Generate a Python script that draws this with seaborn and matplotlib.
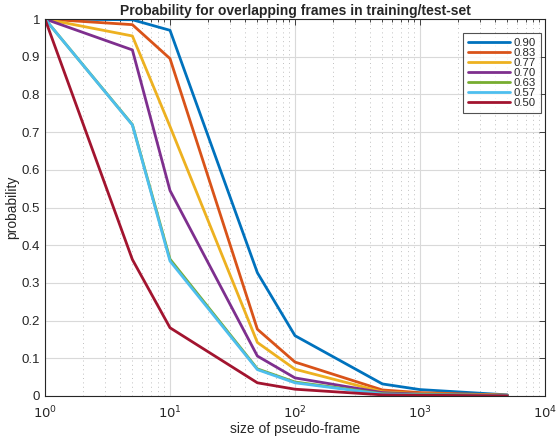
import matplotlib
matplotlib.use("Agg")
import matplotlib.pyplot as plt
import seaborn as sns
import pandas as pd
import numpy as np
from matplotlib.ticker import LogLocator, FixedLocator, NullFormatter

sizes = [1, 5, 10, 50, 100, 500, 1000, 5000]
labels = ["0.90", "0.83", "0.77", "0.70", "0.63", "0.57", "0.50"]
p090 = [1.0, 0.998, 0.970, 0.327, 0.160, 0.032, 0.017, 0.003]
p083 = [1.0, 0.985, 0.895, 0.177, 0.090, 0.016, 0.009, 0.002]
p077 = [1.0, 0.955, 0.715, 0.142, 0.071, 0.011, 0.006, 0.002]
p070 = [1.0, 0.918, 0.545, 0.106, 0.048, 0.009, 0.005, 0.001]
p063 = [1.0, 0.720, 0.363, 0.072, 0.037, 0.006, 0.004, 0.001]
p057 = [1.0, 0.719, 0.358, 0.070, 0.035, 0.005, 0.003, 0.001]
p050 = [1.0, 0.362, 0.181, 0.035, 0.018, 0.003, 0.002, 0.0005]
series = [p090, p083, p077, p070, p063, p057, p050]
colors = ["#0072BD", "#D95319", "#EDB120", "#7E2F8E", "#77AC30", "#4DBEEE", "#A2142F"]

rows = []
for lab, vals in zip(labels, series):
    for s, v in zip(sizes, vals):
        rows.append({"size": s, "prob": v, "overlap": lab})
df = pd.DataFrame(rows)

sns.set_style("white")
plt.rcParams['font.family'] = ['Liberation Sans', 'DejaVu Sans']

fig = plt.figure(figsize=(5.58, 4.38), dpi=100)
ax = fig.add_axes([45/558, 42/438, 500/558, 377/438])

sns.lineplot(data=df, x="size", y="prob", hue="overlap", hue_order=labels,
             palette=colors, linewidth=2, ax=ax, sort=False)

ax.set_xscale("log")
ax.set_xlim(1, 1e4)
ax.set_ylim(0, 1)
ax.set_yticks(np.arange(0, 1.01, 0.1))
ax.set_yticklabels(["0"] + [f"{v:.1f}" for v in np.arange(0.1, 0.95, 0.1)] + ["1"])
ax.xaxis.set_major_locator(FixedLocator([1, 10, 100, 1000, 10000]))
ax.xaxis.set_minor_locator(LogLocator(base=10, subs=np.arange(2, 10), numticks=20))
ax.xaxis.set_minor_formatter(NullFormatter())
ax.set_xticklabels([r"$10^{0}$", r"$10^{1}$", r"$10^{2}$", r"$10^{3}$", r"$10^{4}$"])

ax.grid(True, which="major", axis="both", color="#d9d9d9", linewidth=0.8, linestyle="-")
ax.grid(True, which="minor", axis="x", color="#c0c0c0", linewidth=0.7, linestyle=(0, (1, 3.5)))
ax.set_axisbelow(True)

ax.tick_params(axis="both", which="both", direction="in", top=True, right=True,
               labelsize=9.5, colors="#262626", length=4, width=0.6)
ax.tick_params(axis="x", which="both", pad=6)
ax.tick_params(axis="x", which="minor", length=2.5)
for sp in ax.spines.values():
    sp.set_color("#262626")
    sp.set_linewidth(0.8)

ax.set_xlabel("size of pseudo-frame", fontsize=10, color="#262626", labelpad=1)
ax.set_ylabel("probability", fontsize=10, color="#262626", labelpad=2)
ax.set_title("Probability for overlapping frames in training/test-set",
             fontsize=10, fontweight="bold", pad=3)

leg = ax.legend(title=None, loc="upper right", bbox_to_anchor=(0.992, 0.963),
                fontsize=8.2, handlelength=3.7, handletextpad=0.3, labelspacing=0.0,
                borderpad=0.45, frameon=True, fancybox=False, borderaxespad=0)
leg.get_frame().set_edgecolor("#262626")
leg.get_frame().set_linewidth(0.8)
for line in leg.get_lines():
    line.set_linewidth(2)

fig.savefig("out.png", dpi=100)
